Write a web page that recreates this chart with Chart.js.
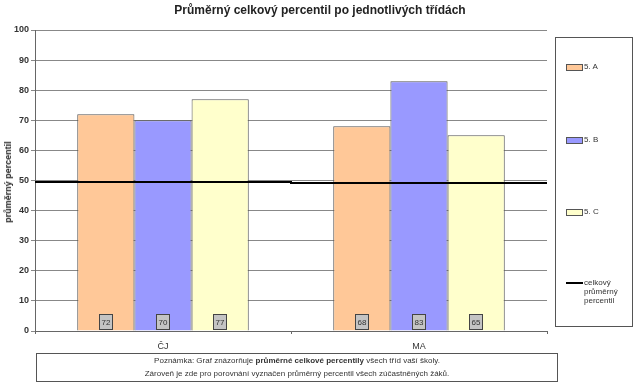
<!DOCTYPE html>
<html>
<head>
<meta charset="utf-8">
<script src="https://cdn.jsdelivr.net/npm/chart.js@4/dist/chart.umd.min.js"></script>
<style>
  body { margin: 0; background: #fff; font-family: "Liberation Sans", Arial, sans-serif; }
  #wrap { position: relative; width: 640px; height: 388px; }
  #c, #avg { position: absolute; left: 0; top: 0; }
  #title { position: absolute; left: 0; top: 3px; width: 640px; text-align: center;
           font-size: 12px; font-weight: bold; color: #222; }
  #ytitle { position: absolute; left: 8px; top: 182px; transform: translate(-50%, -50%) rotate(-90deg);
            font-size: 9px; font-weight: bold; color: #222; white-space: nowrap; }
  #legend { position: absolute; left: 555px; top: 37px; width: 76px; height: 288px;
            border: 1px solid #555; font-size: 8px; color: #333; }
  .li { position: absolute; left: 10px; display: flex; align-items: flex-start; }
  .sw { width: 15px; height: 5px; border: 1px solid #555; margin-right: 1px; margin-top: 2px; }
  .ln { width: 17px; height: 2px; background: #000; margin-right: 1px; margin-top: 4px; }
  #note { position: absolute; left: 36px; top: 353px; width: 520px; height: 27px;
          border: 1px solid #555; font-size: 8px; color: #333; text-align: center; line-height: 13px; }
</style>
</head>
<body>
<div id="wrap">
  <canvas id="c" width="640" height="388"></canvas>
  <canvas id="avg" width="640" height="388"></canvas>
  <div id="title">Průměrný celkový percentil po jednotlivých třídách</div>
  <div id="ytitle">průměrný percentil</div>
  <div id="legend">
    <div class="li" style="top:24px"><div class="sw" style="background:#FFC898"></div>5. A</div>
    <div class="li" style="top:97px"><div class="sw" style="background:#9999FF"></div>5. B</div>
    <div class="li" style="top:169px"><div class="sw" style="background:#FFFFCC"></div>5. C</div>
    <div class="li" style="top:240px"><div class="ln"></div><div>celkový<br>průměrný<br>percentil</div></div>
  </div>
  <div id="note">Poznámka: Graf znázorňuje <b>průměrné celkové percentily</b> všech tříd vaší školy.<br>Zároveň je zde pro porovnání vyznačen průměrný percentil všech zúčastněných žáků.</div>
</div>
<script>
const subjects = ['ČJ', 'MA'];
const class5A = [72, 68];
const class5B = [70, 83];
const class5C = [77, 65];
const overallAvg = [49.5, 49.2];
const yTicks = [0, 10, 20, 30, 40, 50, 60, 70, 80, 90, 100];

// plot area: x 35..547, y 30..331 on both canvases
const pad = { top: 30, right: 93, left: 0, bottom: 0 };

// box with the value near the bottom of each bar
const valueBoxes = {
  id: 'valueBoxes',
  afterDatasetsDraw(chart) {
    const ctx = chart.ctx;
    const yBase = chart.scales.y.getPixelForValue(0);
    ctx.save();
    ctx.font = '8px "Liberation Sans", Arial';
    ctx.textAlign = 'center';
    ctx.textBaseline = 'middle';
    chart.data.datasets.forEach((ds, i) => {
      chart.getDatasetMeta(i).data.forEach((bar, j) => {
        const cx = Math.round(bar.x), cy = yBase - 9;
        ctx.fillStyle = '#c4c4c4';
        ctx.fillRect(cx - 7, cy - 8, 14, 16);
        ctx.strokeStyle = '#444';
        ctx.lineWidth = 1;
        ctx.strokeRect(cx - 6.5, cy - 7.5, 13, 15);
        ctx.fillStyle = '#333';
        ctx.fillText(ds.data[j], cx, cy + 0.5);
      });
    });
    ctx.restore();
  }
};

new Chart(document.getElementById('c'), {
  type: 'bar',
  data: {
    labels: subjects,
    datasets: [
      { label: '5. A', data: class5A, backgroundColor: '#FFC898', borderColor: '#555', borderWidth: 1 },
      { label: '5. B', data: class5B, backgroundColor: '#9999FF', borderColor: '#555', borderWidth: 1 },
      { label: '5. C', data: class5C, backgroundColor: '#FFFFCC', borderColor: '#555', borderWidth: 1 }
    ]
  },
  options: {
    responsive: false,
    animation: false,
    layout: { padding: pad },
    plugins: { legend: { display: false }, tooltip: { enabled: false }, title: { display: false } },
    datasets: { bar: { categoryPercentage: 0.67, barPercentage: 1 } },
    scales: {
      x: {
        afterFit(s) { s.height = 57; },
        border: { color: '#666' },
        grid: { drawOnChartArea: false, tickLength: 3, color: '#666' },
        ticks: { color: '#333', font: { size: 9 }, padding: 7 }
      },
      y: {
        min: 0, max: 100,
        afterFit(s) { s.width = 35; },
        afterBuildTicks(s) { s.ticks = yTicks.map(v => ({ value: v })); },
        border: { color: '#666' },
        grid: { color: '#888', tickLength: 4 },
        ticks: { color: '#333', font: { size: 9, weight: 'bold' }, padding: 2 }
      }
    }
  },
  plugins: [valueBoxes]
});

// overall average line, one step per subject, spanning the whole plot width
new Chart(document.getElementById('avg'), {
  type: 'line',
  data: {
    datasets: [{
      label: 'celkový průměrný percentil',
      data: [
        { x: 0, y: overallAvg[0] }, { x: 1, y: overallAvg[0] },
        { x: 1, y: overallAvg[1] }, { x: 2, y: overallAvg[1] }
      ],
      borderColor: '#000', borderWidth: 2, pointRadius: 0, tension: 0
    }]
  },
  options: {
    responsive: false,
    animation: false,
    layout: { padding: { top: 30, right: 93, left: 35, bottom: 57 } },
    plugins: { legend: { display: false }, tooltip: { enabled: false } },
    scales: {
      x: { type: 'linear', min: 0, max: 2, display: false },
      y: { min: 0, max: 100, display: false }
    }
  }
});
</script>
</body>
</html>
